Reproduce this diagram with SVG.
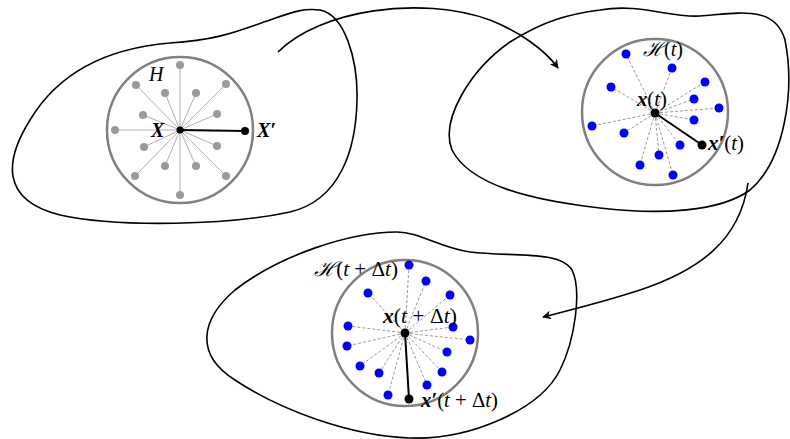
<svg xmlns="http://www.w3.org/2000/svg" width="790" height="439" viewBox="0 0 790 439">
<defs>
<marker id="ah" viewBox="0 0 10 10" refX="9" refY="5" markerWidth="9" markerHeight="9" markerUnits="userSpaceOnUse" orient="auto">
<path d="M0,0 L10,5 L0,10 L3,5 Z" fill="#000"/>
</marker>
</defs>
<style>
.blob{fill:none;stroke:#000;stroke-width:1.6}
.ring{fill:none;stroke:#808080;stroke-width:2.5}
.sp{stroke:#b0b0b0;stroke-width:1}
.gd{fill:#9a9a9a}
.dl{stroke:#999;stroke-width:1;stroke-dasharray:3,2}
.bd{fill:#0000ff}
.ctr{fill:#000}
.bl{stroke:#000;stroke-width:2}
text{font-family:"Liberation Serif","DejaVu Serif",serif;font-size:20px;fill:#000}
.bi{font-weight:bold;font-style:italic}
.it{font-style:italic}
.conn{fill:none;stroke:#000;stroke-width:1.6}
</style>
<g id="region1">
<path class="blob" d="M320,10 C345,15 358,60 357,100 C356,150 340,200 290,212 C230,225 120,228 60,215 C0,200 5,160 30,120 C60,70 110,48 170,43 C220,40 240,30 270,20 C295,11 305,8 320,10 Z"/>
<circle class="ring" cx="180" cy="130" r="73"/>
<g class="sp">
<line x1="180" y1="130" x2="180" y2="65"/><line x1="180" y1="130" x2="136" y2="85"/><line x1="180" y1="130" x2="226" y2="84"/><line x1="180" y1="130" x2="165" y2="93"/><line x1="180" y1="130" x2="196" y2="93"/><line x1="180" y1="130" x2="143" y2="115"/><line x1="180" y1="130" x2="217" y2="114"/><line x1="180" y1="130" x2="115" y2="130"/><line x1="180" y1="130" x2="144" y2="147"/><line x1="180" y1="130" x2="217" y2="146"/><line x1="180" y1="130" x2="165" y2="166"/><line x1="180" y1="130" x2="196" y2="166"/><line x1="180" y1="130" x2="135" y2="176"/><line x1="180" y1="130" x2="226" y2="176"/><line x1="180" y1="130" x2="180" y2="195"/>
</g>
<g class="gd">
<circle cx="180" cy="65" r="4"/><circle cx="136" cy="85" r="4"/><circle cx="226" cy="84" r="4"/><circle cx="165" cy="93" r="4"/><circle cx="196" cy="93" r="4"/><circle cx="143" cy="115" r="4"/><circle cx="217" cy="114" r="4"/><circle cx="115" cy="130" r="4"/><circle cx="144" cy="147" r="4"/><circle cx="217" cy="146" r="4"/><circle cx="165" cy="166" r="4"/><circle cx="196" cy="166" r="4"/><circle cx="135" cy="176" r="4"/><circle cx="226" cy="176" r="4"/><circle cx="180" cy="195" r="4"/>
</g>
<line class="bl" x1="180" y1="130" x2="245" y2="131"/>
<circle class="ctr" cx="180" cy="130" r="3.5"/>
<circle class="ctr" cx="245" cy="131" r="4"/>
<text class="it" x="149" y="81">H</text>
<text class="bi" x="151" y="137">X</text>
<text class="bi" x="257" y="137">X′</text>
</g>
<g id="region2">
<path class="blob" d="M600,10 C640,3 670,18 700,16 C740,13 775,5 785,40 C795,90 785,160 750,190 C720,212 660,215 600,208 C530,200 470,185 452,150 C440,120 470,70 510,42 C545,20 570,14 600,10 Z"/>
<circle class="ring" cx="655" cy="112" r="73"/>
<g class="dl">
<line x1="655" y1="113" x2="626" y2="54"/><line x1="655" y1="113" x2="672" y2="68"/><line x1="655" y1="113" x2="611" y2="87"/><line x1="655" y1="113" x2="705" y2="82"/><line x1="655" y1="113" x2="694" y2="99"/><line x1="655" y1="113" x2="719" y2="108"/><line x1="655" y1="113" x2="592" y2="126"/><line x1="655" y1="113" x2="624" y2="133"/><line x1="655" y1="113" x2="694" y2="120"/><line x1="655" y1="113" x2="680" y2="145"/><line x1="655" y1="113" x2="659" y2="155"/><line x1="655" y1="113" x2="640" y2="165"/><line x1="655" y1="113" x2="673" y2="175"/>
</g>
<g class="bd">
<circle cx="626" cy="54" r="4.5"/><circle cx="672" cy="68" r="4.5"/><circle cx="611" cy="87" r="4.5"/><circle cx="705" cy="82" r="4.5"/><circle cx="694" cy="99" r="4.5"/><circle cx="719" cy="108" r="4.5"/><circle cx="592" cy="126" r="4.5"/><circle cx="624" cy="133" r="4.5"/><circle cx="694" cy="120" r="4.5"/><circle cx="680" cy="145" r="4.5"/><circle cx="659" cy="155" r="4.5"/><circle cx="640" cy="165" r="4.5"/><circle cx="673" cy="175" r="4.5"/>
</g>
<line class="bl" x1="655" y1="113" x2="702" y2="145"/>
<circle class="ctr" cx="655" cy="113" r="4.5"/>
<circle class="ctr" cx="702" cy="145" r="4.5"/>
<text x="643" y="56" textLength="40" lengthAdjust="spacingAndGlyphs"><tspan class="it">ℋ</tspan>(<tspan class="it">t</tspan>)</text>
<text x="637" y="106" textLength="30" lengthAdjust="spacingAndGlyphs"><tspan class="bi">x</tspan>(<tspan class="it">t</tspan>)</text>
<text x="708" y="150" textLength="36" lengthAdjust="spacingAndGlyphs"><tspan class="bi">x′</tspan>(<tspan class="it">t</tspan>)</text>
</g>
<g id="region3">
<path class="blob" d="M397,232 C420,232 440,248 470,252 C510,257 560,250 572,270 C582,290 575,340 560,370 C540,410 470,440 410,438 C350,436 280,410 235,380 C195,355 200,320 235,290 C280,255 350,232 397,232 Z"/>
<circle class="ring" cx="405" cy="333" r="73"/>
<g class="dl">
<line x1="405" y1="333" x2="409" y2="265"/><line x1="405" y1="333" x2="426" y2="281"/><line x1="405" y1="333" x2="368" y2="293"/><line x1="405" y1="333" x2="450" y2="295"/><line x1="405" y1="333" x2="348" y2="326"/><line x1="405" y1="333" x2="453" y2="327"/><line x1="405" y1="333" x2="470" y2="340"/><line x1="405" y1="333" x2="347" y2="346"/><line x1="405" y1="333" x2="447" y2="352"/><line x1="405" y1="333" x2="360" y2="366"/><line x1="405" y1="333" x2="379" y2="373"/><line x1="405" y1="333" x2="442" y2="372"/><line x1="405" y1="333" x2="427" y2="385"/><line x1="405" y1="333" x2="388" y2="395"/>
</g>
<g class="bd">
<circle cx="409" cy="265" r="4.5"/><circle cx="426" cy="281" r="4.5"/><circle cx="368" cy="293" r="4.5"/><circle cx="450" cy="295" r="4.5"/><circle cx="348" cy="326" r="4.5"/><circle cx="453" cy="327" r="4.5"/><circle cx="470" cy="340" r="4.5"/><circle cx="347" cy="346" r="4.5"/><circle cx="447" cy="352" r="4.5"/><circle cx="360" cy="366" r="4.5"/><circle cx="379" cy="373" r="4.5"/><circle cx="442" cy="372" r="4.5"/><circle cx="427" cy="385" r="4.5"/><circle cx="388" cy="395" r="4.5"/>
</g>
<line class="bl" x1="405" y1="333" x2="409" y2="399"/>
<circle class="ctr" cx="405" cy="333" r="4.5"/>
<circle class="ctr" cx="409" cy="399" r="4.5"/>
<text x="314" y="276" textLength="84" lengthAdjust="spacingAndGlyphs"><tspan class="it">ℋ</tspan>(<tspan class="it">t</tspan> + Δ<tspan class="it">t</tspan>)</text>
<text x="383" y="323" textLength="74" lengthAdjust="spacingAndGlyphs"><tspan class="bi">x</tspan>(<tspan class="it">t</tspan> + Δ<tspan class="it">t</tspan>)</text>
<text x="421" y="407" textLength="77" lengthAdjust="spacingAndGlyphs"><tspan class="bi">x′</tspan>(<tspan class="it">t</tspan> + Δ<tspan class="it">t</tspan>)</text>
</g>
<g id="connectors">
<path class="conn" marker-end="url(#ah)" d="M278,52 C320,10 420,-5 490,20 C520,32 545,50 558,68"/>
<path class="conn" marker-end="url(#ah)" d="M748,183 C740,240 700,270 640,290 C600,303 570,310 543,317"/>
</g>
</svg>
